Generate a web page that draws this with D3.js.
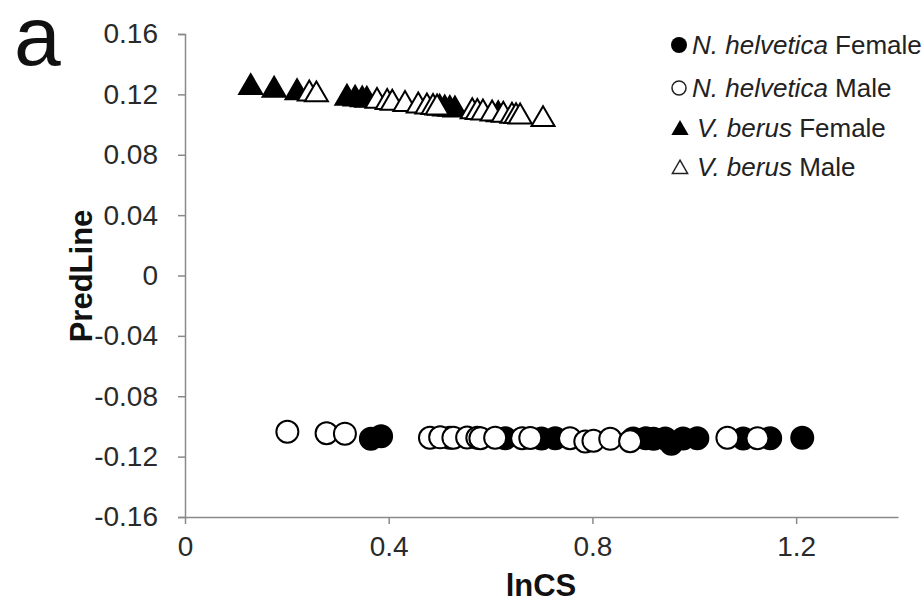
<!DOCTYPE html>
<html><head><meta charset="utf-8">
<script src="https://cdn.jsdelivr.net/npm/d3@7"></script>
<style>
body{margin:0;background:#fff;}
svg{display:block;font-family:"Liberation Sans",Arial,sans-serif;}
</style></head>
<body><svg id="chart" width="924" height="604"></svg>
<script>
// ---- data ----
const nhFemaleX = [0.365,0.385,0.52,0.629,0.70,0.727,0.88,0.905,0.920,0.943,0.955,0.978,1.006,1.096,1.149,1.212];
const nhFemaleY = [-0.1082,-0.1065,-0.1075,-0.1078,-0.1080,-0.1078,-0.1080,-0.1078,-0.1082,-0.1080,-0.1115,-0.1080,-0.1078,-0.1080,-0.1078,-0.1075];
const nhMaleX = [0.201,0.278,0.314,0.481,0.501,0.527,0.554,0.574,0.580,0.609,0.662,0.678,0.756,0.786,0.802,0.835,0.874,1.065,1.124];
const nhMaleY = [-0.1035,-0.1045,-0.1048,-0.1075,-0.1072,-0.1075,-0.1073,-0.1075,-0.1078,-0.1075,-0.1078,-0.1076,-0.1078,-0.1100,-0.1095,-0.1082,-0.1098,-0.1075,-0.1078];
const vbFemaleX = [0.129,0.175,0.220,0.318,0.334,0.348,0.357,0.50,0.51,0.52,0.53,0.615];
const vbFemaleY = [0.1259,0.1242,0.1225,0.1189,0.1183,0.1178,0.1175,0.1122,0.1118,0.1115,0.1111,0.1080];
const vbMaleX = [0.244,0.258,0.377,0.397,0.407,0.432,0.458,0.475,0.487,0.495,0.564,0.574,0.585,0.603,0.625,0.642,0.650,0.658,0.703];
const vbMaleY = [0.1217,0.1211,0.1168,0.1160,0.1156,0.1147,0.1138,0.1131,0.1127,0.1124,0.1099,0.1095,0.1091,0.1084,0.1076,0.1070,0.1067,0.1064,0.1047];
const xTicks = [0, 0.4, 0.8, 1.2];
const xTickLabels = ["0","0.4","0.8","1.2"];
const yTicks = [0.16,0.12,0.08,0.04,0,-0.04,-0.08,-0.12,-0.16];
const yTickLabels = ["0.16","0.12","0.08","0.04","0","-0.04","-0.08","-0.12","-0.16"];
const seriesNames = ["N. helvetica|Female","N. helvetica|Male","V. berus|Female","V. berus|Male"];

const series = [
  {name:seriesNames[0], xs:nhFemaleX, ys:nhFemaleY, shape:"circle", filled:true},
  {name:seriesNames[1], xs:nhMaleX, ys:nhMaleY, shape:"circle", filled:false},
  {name:seriesNames[2], xs:vbFemaleX, ys:vbFemaleY, shape:"triangle", filled:true},
  {name:seriesNames[3], xs:vbMaleX, ys:vbMaleY, shape:"triangle", filled:false}
];

const svg = d3.select("#chart");
const x = d3.scaleLinear().domain([0,1.4]).range([185,898]);
const y = d3.scaleLinear().domain([-0.16,0.16]).range([517,34]);
const axisColor = "#8a8a8a", labelColor = "#2a2a2a";

// y axis
const ya = svg.append("g").attr("transform","translate(185,0)")
  .call(d3.axisLeft(y).tickValues(yTicks).tickFormat((d,i)=>yTickLabels[i]).tickSize(7).tickPadding(20));
ya.select(".domain").attr("stroke",axisColor).attr("stroke-width",1.5);
ya.selectAll(".tick line").attr("stroke",axisColor).attr("stroke-width",1.5);
ya.selectAll(".tick text").attr("font-size",28).attr("fill",labelColor).attr("font-family","Liberation Sans, Arial, sans-serif");

// x axis
const xa = svg.append("g").attr("transform","translate(0,517)")
  .call(d3.axisBottom(x).tickValues(xTicks).tickFormat((d,i)=>xTickLabels[i]).tickSize(7).tickSizeOuter(0).tickPadding(12));
xa.select(".domain").attr("stroke",axisColor).attr("stroke-width",1.5);
xa.selectAll(".tick line").attr("stroke",axisColor).attr("stroke-width",1.5);
xa.selectAll(".tick text").attr("font-size",28).attr("fill",labelColor).attr("font-family","Liberation Sans, Arial, sans-serif");

// axis titles
svg.append("text").attr("x",541).attr("y",596).attr("text-anchor","middle")
  .attr("font-size",31).attr("font-weight","bold").attr("fill","#111").text("lnCS");
svg.append("text").attr("transform","translate(92,276) rotate(-90)").attr("text-anchor","middle")
  .attr("font-size",31).attr("font-weight","bold").attr("fill","#111").text("PredLine");
// panel label
svg.append("text").attr("x",14).attr("y",65).attr("font-size",84).attr("fill","#111").text("a");

// markers
const tri = d3.symbol().type(d3.symbolTriangle).size(230);
series.forEach(s=>{
  const pts = s.xs.map((v,i)=>({x:v,y:s.ys[i]}));
  const g = svg.append("g");
  if(s.shape==="circle"){
    g.selectAll("circle").data(pts).join("circle")
      .attr("cx",d=>x(d.x)).attr("cy",d=>y(d.y)).attr("r",11)
      .attr("fill",s.filled?"#000":"#fff").attr("stroke","#000").attr("stroke-width",2);
  } else {
    g.selectAll("path").data(pts).join("path")
      .attr("d",tri).attr("transform",d=>`translate(${x(d.x)},${y(d.y)+2})`)
      .attr("fill",s.filled?"#000":"#fff").attr("stroke","#000").attr("stroke-width",2);
  }
});

// legend
const lg = svg.append("g");
const rowsY = [45,88,128,167];
series.forEach((s,i)=>{
  const cy = rowsY[i];
  if(s.shape==="circle"){
    lg.append("circle").attr("cx",679).attr("cy",cy).attr("r",s.filled?8:7)
      .attr("fill",s.filled?"#000":"#fff").attr("stroke","#222").attr("stroke-width",s.filled?0:1.5);
  } else {
    lg.append("path").attr("d",d3.symbol().type(d3.symbolTriangle).size(s.filled?130:100))
      .attr("transform",`translate(680,${cy+2})`)
      .attr("fill",s.filled?"#000":"#fff").attr("stroke","#222").attr("stroke-width",s.filled?0:1.5);
  }
  const parts = s.name.split("|");
  const t = lg.append("text").attr("x",s.shape==="circle"?692:697).attr("y",cy+9)
    .attr("font-size",26).attr("fill","#222");
  t.append("tspan").attr("font-style","italic").text(parts[0]);
  t.append("tspan").text(" "+parts[1]);
});
</script></body></html>
